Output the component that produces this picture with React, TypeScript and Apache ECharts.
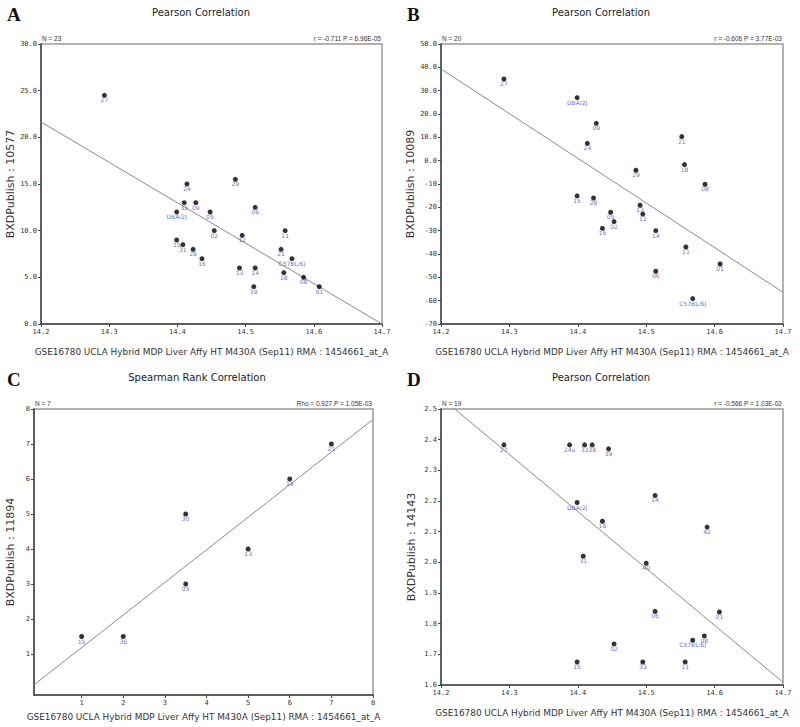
import React, { useEffect, useRef } from "react";
import * as echarts from "echarts";

// ---------- DATA ----------
const strainsA = ["24", "29", "32", "09", "DBA/2J", "05", "06", "02", "12", "11", "15", "31", "28", "16", "21", "C57BL/6J", "13", "14", "18", "08", "01", "19", "27"];
const xA = [14.414, 14.485, 14.41, 14.427, 14.399, 14.448, 14.514, 14.454, 14.495, 14.558, 14.399, 14.408, 14.423, 14.436, 14.552, 14.568, 14.491, 14.514, 14.556, 14.585, 14.608, 14.512, 14.293];
const yA = [15.0, 15.5, 13.0, 13.0, 12.0, 12.0, 12.5, 10.0, 9.5, 10.0, 9.0, 8.5, 8.0, 7.0, 8.0, 7.0, 6.0, 6.0, 5.5, 5.0, 4.0, 4.0, 24.5];
const fitA = [[14.2, 21.65], [14.7, 0.0]];

const strainsB = ["27", "DBA/2J", "09", "24", "21", "18", "29", "08", "15", "28", "13", "05", "12", "02", "16", "14", "11", "01", "06", "C57BL/6J"];
const xB = [14.292, 14.399, 14.427, 14.414, 14.552, 14.556, 14.485, 14.586, 14.399, 14.423, 14.491, 14.448, 14.495, 14.453, 14.436, 14.514, 14.558, 14.608, 14.514, 14.568];
const yB = [35.0, 27.0, 16.0, 7.4, 10.3, -1.7, -4.1, -10.1, -15.1, -16.0, -19.1, -22.1, -22.9, -26.1, -29.0, -30.0, -37.0, -44.3, -47.4, -59.1];
const fitB = [[14.2, 39.3], [14.7, -56.4]];

const strainsC = ["15", "36", "05", "13", "30", "14", "21"];
const xC = [1, 2, 3.5, 5, 3.5, 6, 7];
const yC = [1.5, 1.5, 3, 4, 5, 6, 7];
const fitC = [[-0.144, 0.12], [8, 7.7]];

const strainsD = ["27", "24a", "32", "38", "39", "DBA/2J", "14", "16", "42", "31", "40", "06", "01", "08", "C57BL/6J", "02", "15", "33", "11"];
const xD = [14.292, 14.388, 14.41, 14.421, 14.445, 14.399, 14.513, 14.436, 14.589, 14.408, 14.5, 14.513, 14.607, 14.585, 14.568, 14.453, 14.399, 14.495, 14.557];
const yD = [2.383, 2.383, 2.383, 2.383, 2.37, 2.195, 2.218, 2.134, 2.115, 2.02, 1.997, 1.84, 1.838, 1.76, 1.746, 1.734, 1.675, 1.675, 1.675];
const fitD = [[14.22, 2.5], [14.7, 1.609]];

const ticksC = [1, 2, 3, 4, 5, 6, 7, 8];

const panelLetters = ["A", "B", "C", "D"];
const panelTitles = ["Pearson Correlation", "Pearson Correlation", "Spearman Rank Correlation", "Pearson Correlation"];
const nTexts = ["N = 23", "N = 20", "N = 7", "N = 19"];
const statTexts = ["r = -0.711 P = 6.96E-05", "r = -0.606 P = 3.77E-03", "Rho = 0.927 P = 1.05E-03", "r = -0.566 P = 1.03E-02"];
const yNames = ["BXDPublish : 10577", "BXDPublish : 10089", "BXDPublish : 11894", "BXDPublish : 14143"];
const xName = "GSE16780 UCLA Hybrid MDP Liver Affy HT M430A (Sep11) RMA : 1454661_at_A";

// ---------- LAYOUT ----------
const grids = [
  { left: 41, top: 44, width: 341, height: 280 },
  { left: 441, top: 44, width: 342, height: 280 },
  { left: 34, top: 409, width: 339, height: 286 },
  { left: 441, top: 409, width: 342, height: 276 },
];

const TICK_FONT = "DejaVu Sans Mono";
const SANS = "DejaVu Sans";
const LABEL_BLUE = "#4545c4";

function pts(names: string[], xs: number[], ys: number[]) {
  return names.map((n, i) => ({ name: n, value: [xs[i], ys[i]] }));
}

export default function App() {
  const ref = useRef<HTMLDivElement>(null);
  useEffect(() => {
    if (!ref.current) return;
    const chart = echarts.init(ref.current, null, { renderer: "svg" });

    const axisCommon = {
      axisLine: { show: true, onZero: false, lineStyle: { color: "#444", width: 1.5 } },
      axisTick: { show: true, length: 3, lineStyle: { color: "#444" } },
      splitLine: { show: false },
      axisLabel: { fontFamily: TICK_FONT, fontSize: 7, color: "#333", margin: 4 },
      nameTextStyle: { fontFamily: SANS, fontSize: 8.9, color: "#333" },
    };

    const xAxes: any[] = [0, 1, 3].map((g) => ({
      ...axisCommon,
      type: "value",
      gridIndex: g,
      min: 14.2,
      max: 14.7,
      interval: 0.1,
      name: xName,
      nameLocation: "middle",
      nameGap: 23,
      axisLabel: { ...axisCommon.axisLabel, formatter: (v: number) => v.toFixed(1) },
    }));
    xAxes.splice(2, 0, {
      ...axisCommon,
      type: "value",
      gridIndex: 2,
      min: -0.144,
      max: 8,
      name: xName,
      nameLocation: "middle",
      nameGap: 17,
      axisTick: { ...axisCommon.axisTick, customValues: ticksC },
      axisLabel: { ...axisCommon.axisLabel, customValues: ticksC, formatter: (v: number) => String(v) },
    });

    const yAxes: any[] = [
      {
        ...axisCommon, type: "value", gridIndex: 0, min: 0, max: 30, interval: 5,
        name: yNames[0], nameLocation: "middle", nameGap: 24,
        nameTextStyle: { ...axisCommon.nameTextStyle, fontSize: 11 },
        axisLabel: { ...axisCommon.axisLabel, formatter: (v: number) => v.toFixed(1) },
      },
      {
        ...axisCommon, type: "value", gridIndex: 1, min: -70, max: 50, interval: 10,
        name: yNames[1], nameLocation: "middle", nameGap: 24,
        nameTextStyle: { ...axisCommon.nameTextStyle, fontSize: 11 },
        axisLabel: { ...axisCommon.axisLabel, formatter: (v: number) => (v >= 0 ? v.toFixed(1) : String(v)) },
      },
      {
        ...axisCommon, type: "value", gridIndex: 2, min: -0.17, max: 8,
        name: yNames[2], nameLocation: "middle", nameGap: 18,
        nameTextStyle: { ...axisCommon.nameTextStyle, fontSize: 11 },
        axisTick: { ...axisCommon.axisTick, customValues: ticksC },
        axisLabel: { ...axisCommon.axisLabel, customValues: ticksC, formatter: (v: number) => String(v) },
      },
      {
        ...axisCommon, type: "value", gridIndex: 3, min: 1.6, max: 2.5, interval: 0.1,
        name: yNames[3], nameLocation: "middle", nameGap: 24,
        nameTextStyle: { ...axisCommon.nameTextStyle, fontSize: 11 },
        axisLabel: { ...axisCommon.axisLabel, formatter: (v: number) => v.toFixed(1) },
      },
    ];

    const datasets = [
      pts(strainsA, xA, yA),
      pts(strainsB, xB, yB),
      pts(strainsC, xC, yC),
      pts(strainsD, xD, yD),
    ];
    const fits = [fitA, fitB, fitC, fitD];

    const series: any[] = [];
    for (let i = 0; i < 4; i++) {
      series.push({
        type: "line",
        xAxisIndex: i,
        yAxisIndex: i,
        data: fits[i],
        showSymbol: false,
        symbol: "none",
        clip: true,
        lineStyle: { color: "#8a8a8a", width: 1 },
        silent: true,
        z: 1,
      });
      series.push({
        type: "scatter",
        xAxisIndex: i,
        yAxisIndex: i,
        data: datasets[i],
        symbolSize: 5,
        itemStyle: { color: "#000" },
        label: {
          show: true,
          position: "bottom",
          distance: -1,
          formatter: (p: any) => p.name,
          fontFamily: SANS,
          fontSize: 6,
          color: LABEL_BLUE,
        },
        z: 3,
      });
    }

    const graphic: any[] = [];
    const letterPos = [[7, 14], [407, 14], [7, 379], [407, 379]];
    const titlePos = [[201, 12], [601, 12], [197, 377], [601, 377]];
    for (let i = 0; i < 4; i++) {
      const g = grids[i];
      graphic.push({
        type: "text", x: letterPos[i][0], y: letterPos[i][1],
        style: { text: panelLetters[i], font: "bold 19px 'Liberation Serif'", fill: "#111", textAlign: "left", textVerticalAlign: "middle", align: "left", verticalAlign: "middle" },
      });
      graphic.push({
        type: "text", x: titlePos[i][0], y: titlePos[i][1],
        style: { text: panelTitles[i], font: `10px '${SANS}'`, fill: "#222", textAlign: "center", textVerticalAlign: "middle", align: "center", verticalAlign: "middle" },
      });
      graphic.push({
        type: "text", x: g.left + 1, y: g.top - 6,
        style: { text: nTexts[i], font: "6.5px 'Liberation Sans'", fill: "#333", textAlign: "left", textVerticalAlign: "middle", align: "left", verticalAlign: "middle" },
      });
      graphic.push({
        type: "text", x: g.left + g.width - 1, y: g.top - 6,
        style: { text: statTexts[i], font: "6.5px 'Liberation Sans'", fill: "#333", textAlign: "right", textVerticalAlign: "middle", align: "right", verticalAlign: "middle" },
      });
    }

    chart.setOption({
      animation: false,
      backgroundColor: "#fff",
      grid: grids.map((g) => ({ ...g, show: true, borderColor: "#999", borderWidth: 1.5, backgroundColor: "transparent", containLabel: false })),
      xAxis: xAxes,
      yAxis: yAxes,
      series,
      graphic,
    });

    return () => chart.dispose();
  }, []);

  return <div ref={ref} style={{ position: "fixed", left: 0, top: 0, width: 800, height: 727, background: "#fff" }} />;
}
